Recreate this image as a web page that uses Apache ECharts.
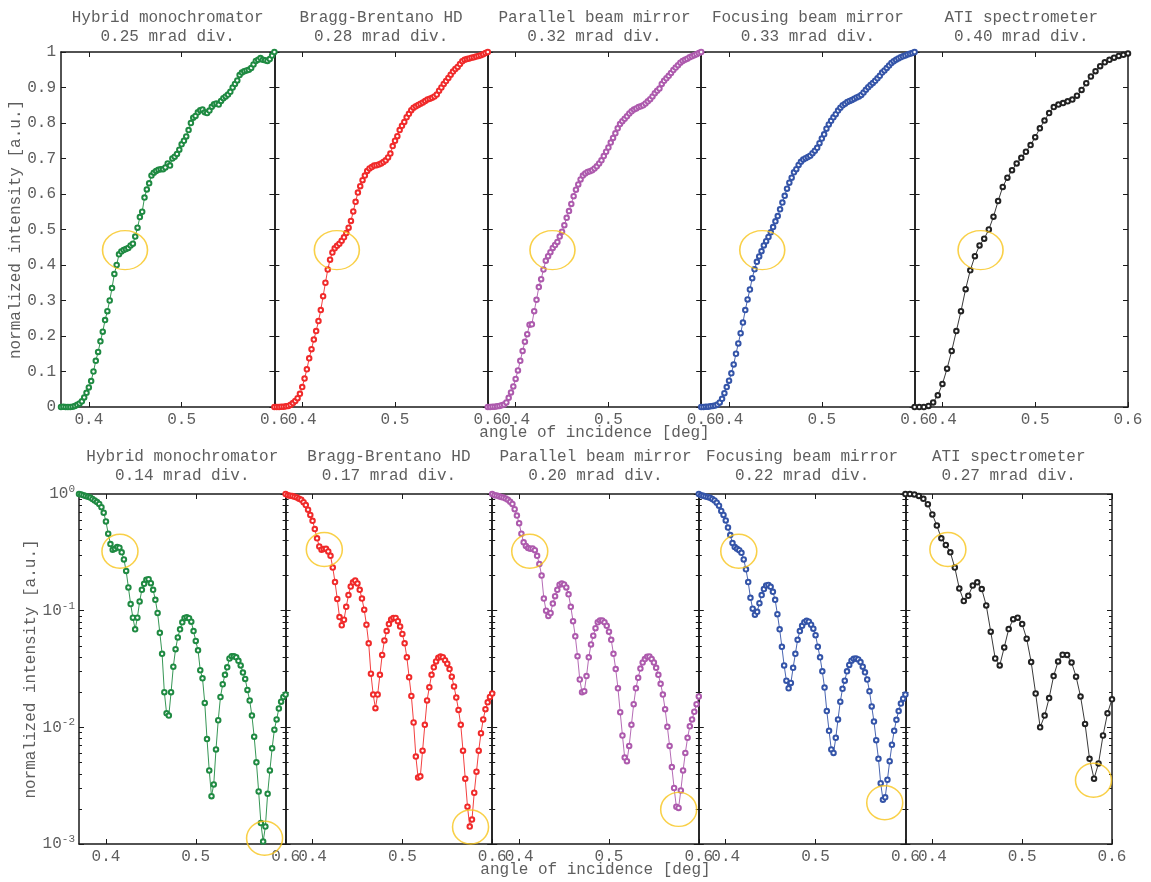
<!DOCTYPE html>
<html><head><meta charset="utf-8">
<script src="https://cdn.jsdelivr.net/npm/echarts@6/dist/echarts.min.js"></script>
<style>html,body{margin:0;padding:0;background:#fff}#chart{width:1151px;height:882px}</style>
</head><body><div id="chart"></div>
<script>
// ---------------- DATA ----------------
const instruments = ['Hybrid monochromator','Bragg-Brentano HD','Parallel beam mirror','Focusing beam mirror','ATI spectrometer'];
const divergenceTop = ['0.25 mrad div.','0.28 mrad div.','0.32 mrad div.','0.33 mrad div.','0.40 mrad div.'];
const divergenceBottom = ['0.14 mrad div.','0.17 mrad div.','0.20 mrad div.','0.22 mrad div.','0.27 mrad div.'];
const xTickValues = [0.4, 0.5, 0.6];
const xAxisTitle = 'angle of incidence [deg]';
const yAxisTitle = 'normalized intensity [a.u.]';

const anglesFine = [0.3700,0.3725,0.3750,0.3775,0.3800,0.3825,0.3850,0.3875,0.3900,0.3925,
 0.3950,0.3975,0.4000,0.4025,0.4050,0.4075,0.4100,0.4125,0.4150,0.4175,
 0.4200,0.4225,0.4250,0.4275,0.4300,0.4325,0.4350,0.4375,0.4400,0.4425,
 0.4450,0.4475,0.4500,0.4525,0.4550,0.4575,0.4600,0.4625,0.4650,0.4675,
 0.4700,0.4725,0.4750,0.4775,0.4800,0.4825,0.4850,0.4875,0.4900,0.4925,
 0.4950,0.4975,0.5000,0.5025,0.5050,0.5075,0.5100,0.5125,0.5150,0.5175,
 0.5200,0.5225,0.5250,0.5275,0.5300,0.5325,0.5350,0.5375,0.5400,0.5425,
 0.5450,0.5475,0.5500,0.5525,0.5550,0.5575,0.5600,0.5625,0.5650,0.5675,
 0.5700,0.5725,0.5750,0.5775,0.5800,0.5825,0.5850,0.5875,0.5900,0.5925,
 0.5950,0.5975,0.6000];
const anglesATI = [0.370,0.375,0.380,0.385,0.390,0.395,0.400,0.405,0.410,0.415,
 0.420,0.425,0.430,0.435,0.440,0.445,0.450,0.455,0.460,0.465,
 0.470,0.475,0.480,0.485,0.490,0.495,0.500,0.505,0.510,0.515,
 0.520,0.525,0.530,0.535,0.540,0.545,0.550,0.555,0.560,0.565,
 0.570,0.575,0.580,0.585,0.590,0.595,0.600];

// top row: linear normalized intensity
const topHybrid = [0.000,0.001,0.000,0.000,0.000,0.001,0.003,0.006,0.010,0.016,
 0.027,0.040,0.055,0.073,0.100,0.130,0.155,0.185,0.212,0.245,
 0.270,0.300,0.335,0.375,0.400,0.430,0.438,0.442,0.445,0.448,
 0.455,0.460,0.480,0.505,0.535,0.550,0.590,0.613,0.630,0.652,
 0.660,0.665,0.668,0.670,0.670,0.675,0.686,0.680,0.700,0.705,
 0.713,0.725,0.740,0.750,0.762,0.780,0.800,0.815,0.820,0.830,
 0.836,0.838,0.830,0.828,0.835,0.846,0.853,0.855,0.852,0.862,
 0.870,0.875,0.880,0.888,0.900,0.910,0.920,0.935,0.942,0.946,
 0.948,0.950,0.955,0.965,0.975,0.978,0.983,0.978,0.977,0.975,
 0.980,0.990,1.000];
const topBragg = [0.000,0.000,0.000,0.001,0.001,0.002,0.003,0.006,0.011,0.017,
 0.025,0.037,0.056,0.080,0.106,0.137,0.163,0.190,0.214,0.242,
 0.273,0.312,0.350,0.387,0.415,0.435,0.447,0.454,0.460,0.468,
 0.478,0.490,0.505,0.524,0.551,0.578,0.604,0.622,0.639,0.652,
 0.665,0.672,0.676,0.680,0.681,0.683,0.686,0.690,0.695,0.703,
 0.714,0.735,0.750,0.763,0.780,0.792,0.803,0.816,0.826,0.836,
 0.843,0.847,0.851,0.854,0.858,0.862,0.866,0.868,0.871,0.875,
 0.880,0.891,0.900,0.910,0.918,0.927,0.936,0.945,0.952,0.958,
 0.966,0.974,0.978,0.980,0.982,0.984,0.985,0.987,0.989,0.991,
 0.994,0.997,1.000];
const topParallel = [0.000,0.000,0.001,0.001,0.002,0.003,0.005,0.007,0.013,0.026,
 0.041,0.058,0.079,0.103,0.130,0.158,0.184,0.205,0.232,0.233,
 0.270,0.302,0.338,0.360,0.387,0.412,0.425,0.436,0.448,0.456,
 0.465,0.480,0.494,0.512,0.533,0.552,0.572,0.594,0.612,0.627,
 0.641,0.652,0.658,0.662,0.664,0.667,0.672,0.678,0.686,0.695,
 0.707,0.719,0.731,0.745,0.758,0.771,0.785,0.797,0.805,0.812,
 0.819,0.827,0.833,0.838,0.841,0.845,0.847,0.850,0.855,0.861,
 0.867,0.875,0.884,0.891,0.897,0.910,0.919,0.926,0.933,0.941,
 0.949,0.956,0.963,0.970,0.975,0.978,0.981,0.985,0.988,0.991,
 0.994,0.997,1.000];
const topFocusing = [0.000,0.000,0.001,0.001,0.002,0.003,0.004,0.007,0.013,0.023,
 0.039,0.056,0.074,0.095,0.120,0.150,0.179,0.208,0.238,0.273,
 0.303,0.331,0.363,0.388,0.409,0.424,0.439,0.455,0.467,0.479,
 0.492,0.507,0.523,0.538,0.557,0.576,0.595,0.615,0.632,0.646,
 0.661,0.670,0.682,0.691,0.697,0.701,0.704,0.708,0.715,0.722,
 0.730,0.743,0.756,0.768,0.784,0.796,0.806,0.816,0.825,0.835,
 0.843,0.850,0.854,0.859,0.862,0.865,0.868,0.872,0.875,0.879,
 0.886,0.894,0.901,0.907,0.913,0.919,0.926,0.933,0.942,0.948,
 0.955,0.962,0.969,0.974,0.978,0.982,0.985,0.988,0.990,0.993,
 0.995,0.997,1.000];
const topATI = [0.000,0.000,0.000,0.003,0.013,0.033,0.065,0.108,0.158,0.214,
 0.270,0.332,0.385,0.425,0.455,0.474,0.500,0.536,0.580,0.620,
 0.646,0.667,0.686,0.702,0.719,0.738,0.760,0.785,0.807,0.828,
 0.845,0.852,0.856,0.861,0.866,0.877,0.893,0.912,0.931,0.946,
 0.960,0.971,0.978,0.984,0.989,0.992,0.996];

// bottom row: log normalized intensity
const bottomHybrid = [1.000,0.991,0.977,0.962,0.946,0.933,0.908,0.881,0.853,0.822,
 0.771,0.692,0.582,0.457,0.372,0.333,0.339,0.351,0.347,0.316,
 0.275,0.219,0.158,0.114,0.0871,0.0692,0.0871,0.120,0.151,0.170,
 0.184,0.186,0.172,0.151,0.124,0.0955,0.0646,0.0427,0.0200,0.0132,
 0.0126,0.0200,0.0331,0.0468,0.0589,0.0692,0.0794,0.0867,0.0879,0.0863,
 0.0804,0.0668,0.0550,0.0457,0.0309,0.0263,0.0162,0.00794,0.00427,0.00257,
 0.00324,0.00646,0.0115,0.0182,0.0234,0.0282,0.0327,0.0389,0.0407,0.0407,
 0.0398,0.0372,0.0339,0.0295,0.0260,0.0209,0.0170,0.0126,0.00832,0.00501,
 0.00282,0.00151,0.00105,0.00141,0.00269,0.00427,0.00661,0.00955,0.0117,0.0145,
 0.0166,0.0182,0.0191];
const bottomBragg = [1.000,0.977,0.968,0.962,0.948,0.935,0.912,0.891,0.851,0.804,
 0.733,0.661,0.589,0.501,0.417,0.355,0.333,0.337,0.339,0.322,
 0.295,0.234,0.176,0.126,0.0881,0.0750,0.0836,0.108,0.136,0.161,
 0.175,0.181,0.171,0.151,0.127,0.102,0.0759,0.0525,0.0288,0.0191,
 0.0146,0.0191,0.0282,0.0417,0.0556,0.0668,0.0767,0.0841,0.0867,0.0867,
 0.0813,0.0733,0.0631,0.0525,0.0398,0.0269,0.0186,0.0110,0.00562,0.00372,
 0.00380,0.00631,0.0105,0.0170,0.0221,0.0282,0.0327,0.0367,0.0394,0.0404,
 0.0398,0.0376,0.0351,0.0316,0.0272,0.0224,0.0180,0.0141,0.0105,0.00631,
 0.00363,0.00209,0.00141,0.00162,0.00275,0.00417,0.00631,0.00891,0.0117,0.0143,
 0.0164,0.0182,0.0195];
const bottomParallel = [1.000,0.977,0.970,0.957,0.944,0.933,0.914,0.891,0.857,0.822,
 0.741,0.653,0.562,0.457,0.385,0.359,0.344,0.340,0.341,0.330,
 0.295,0.251,0.200,0.127,0.100,0.0902,0.0955,0.115,0.133,0.151,
 0.167,0.171,0.168,0.158,0.138,0.108,0.0813,0.0603,0.0407,0.0257,
 0.0200,0.0204,0.0275,0.0398,0.0513,0.0610,0.0708,0.0794,0.0824,0.0822,
 0.0794,0.0741,0.0661,0.0562,0.0427,0.0316,0.0216,0.0135,0.00851,0.00550,
 0.00513,0.00692,0.0105,0.0158,0.0216,0.0266,0.0319,0.0359,0.0385,0.0403,
 0.0404,0.0385,0.0359,0.0324,0.0282,0.0236,0.0191,0.0143,0.0101,0.00692,
 0.00457,0.00302,0.00209,0.00204,0.00288,0.00427,0.00603,0.00813,0.0102,0.0117,
 0.0136,0.0158,0.0184];
const bottomFocusing = [1.000,0.975,0.964,0.953,0.942,0.929,0.908,0.881,0.843,0.794,
 0.716,0.662,0.594,0.515,0.445,0.380,0.351,0.339,0.330,0.313,
 0.275,0.226,0.176,0.129,0.104,0.0923,0.0977,0.116,0.136,0.153,
 0.164,0.166,0.160,0.145,0.124,0.0933,0.0692,0.0490,0.0339,0.0251,
 0.0216,0.0240,0.0324,0.0427,0.0562,0.0668,0.0741,0.0794,0.0818,0.0804,
 0.0759,0.0700,0.0617,0.0490,0.0398,0.0302,0.0219,0.0138,0.00933,0.00646,
 0.00603,0.00813,0.0117,0.0166,0.0214,0.0251,0.0302,0.0343,0.0373,0.0387,
 0.0389,0.0382,0.0363,0.0331,0.0296,0.0257,0.0204,0.0151,0.0112,0.00776,
 0.00537,0.00331,0.00240,0.00251,0.00355,0.00513,0.00708,0.00933,0.0116,0.0138,
 0.0160,0.0176,0.0191];
const bottomATI = [1.000,1.000,0.991,0.962,0.910,0.817,0.668,0.537,0.417,0.366,
 0.316,0.234,0.155,0.121,0.134,0.164,0.175,0.153,0.111,0.0661,
 0.0389,0.0339,0.0484,0.0695,0.0845,0.0871,0.0767,0.0575,0.0363,0.0195,
 0.0100,0.0126,0.0178,0.0275,0.0367,0.0419,0.0417,0.0359,0.0272,0.0184,
 0.0107,0.00537,0.00363,0.00490,0.00851,0.0132,0.0174];

// highlighted features (angle, intensity) per panel
const highlightTop = [[0.439,0.442],[0.4373,0.442],[0.4397,0.442],[0.4358,0.442],[0.4411,0.442]];
const highlightBottomShoulder = [[0.4156,0.323],[0.4131,0.334],[0.4118,0.323],[0.4145,0.323],[0.4173,0.334]];
const highlightBottomDip = [[0.5766,0.00112],[0.5759,0.0014],[0.5776,0.00198],[0.5770,0.00226],[0.5794,0.00352]];

// ---------------- BUILD ----------------
const FONT = '"Liberation Mono","DejaVu Sans Mono",monospace';
const TXT = '#5e5e5e';
const colors = ['#1f8a42','#f02a2a','#ad5aad','#3454a8','#222222'];
const gold = '#f7c41a';
const topSets = [[anglesFine,topHybrid],[anglesFine,topBragg],[anglesFine,topParallel],[anglesFine,topFocusing],[anglesATI,topATI]];
const bottomSets = [[anglesFine,bottomHybrid],[anglesFine,bottomBragg],[anglesFine,bottomParallel],[anglesFine,bottomFocusing],[anglesATI,bottomATI]];

const grid = [], xAxis = [], yAxis = [], series = [], title = [];
const axisLineStyle = {color:'#1a1a1a', width:1.5};
const tickStyle = {color:'#1a1a1a', width:1};
const labelBase = {fontSize:16, fontFamily:FONT, color:TXT};

function logLabel(v){
  const e = Math.round(Math.log10(v));
  return '{b|10}{s|' + e + '}';
}

function addPanel(p, rect, isLog, first, angles, vals, color, hl, hlSize, titleTop, titleText){
  grid.push({left:rect.left, top:rect.top, width:rect.width, height:rect.height});
  const xBase = {type:'value', gridIndex:p, min:0.37, max:0.6, splitLine:{show:false},
    axisLine:{show:true, onZero:false, lineStyle:axisLineStyle}};
  xAxis.push(Object.assign({}, xBase, {position:'bottom',
    axisTick:{show:true, inside:true, length:5, customValues:xTickValues, lineStyle:tickStyle},
    axisLabel:Object.assign({show:true, customValues:xTickValues, margin:5, formatter:v=>v.toFixed(1)}, labelBase)}));
  xAxis.push(Object.assign({}, xBase, {position:'top',
    axisTick:{show:true, inside:true, length:5, customValues:xTickValues, lineStyle:tickStyle},
    axisLabel:{show:false}}));
  let yBase;
  if (!isLog) {
    yBase = {type:'value', gridIndex:p, min:0, max:1, interval:0.1, splitLine:{show:false},
      axisLine:{show:true, onZero:false, lineStyle:axisLineStyle},
      axisTick:{show:true, inside:true, length:5, lineStyle:tickStyle}};
  } else {
    yBase = {type:'log', logBase:10, gridIndex:p, min:0.001, max:1, splitLine:{show:false},
      axisLine:{show:true, onZero:false, lineStyle:axisLineStyle},
      axisTick:{show:true, inside:true, length:5, lineStyle:tickStyle},
      minorTick:{show:true, splitNumber:9, length:3, lineStyle:tickStyle}};
  }
  const leftLabel = first ? (isLog ?
      {show:true, margin:4, formatter:logLabel, rich:{
        b:{fontSize:16, fontFamily:FONT, color:TXT},
        s:{fontSize:11, fontFamily:FONT, color:TXT, padding:[0,0,10,0]}}}
      : Object.assign({show:true, margin:5}, labelBase))
    : {show:false};
  const left = Object.assign({}, yBase, {position:'left', axisLabel:leftLabel});
  if (first) {
    left.name = yAxisTitle; left.nameLocation = 'middle'; left.nameGap = isLog ? 34 : 33;
    left.nameTextStyle = {fontSize:16, fontFamily:FONT, color:TXT};
  }
  yAxis.push(left);
  yAxis.push(Object.assign({}, yBase, {position:'right', axisLabel:{show:false}}));

  series.push({type:'line', xAxisIndex:2*p, yAxisIndex:2*p,
    data: angles.map((a,k)=>[a, vals[k]]),
    symbol:'emptyCircle', symbolSize:4.5, showSymbol:true, showAllSymbol:true,
    lineStyle:{color:color, width:0.9}, itemStyle:{color:color, borderColor:color, borderWidth:0.8},
    z:2, silent:true});
  series.push({type:'scatter', xAxisIndex:2*p, yAxisIndex:2*p, data:hl,
    symbol:'circle', symbolSize:hlSize, clip:false, silent:true, z:3,
    itemStyle:{color:'rgba(0,0,0,0)', borderColor:gold, borderWidth:1.5}});
  title.push({text:titleText, left:rect.left + rect.width/2, top:titleTop, textAlign:'center', padding:0,
    textStyle:{fontSize:16, fontWeight:'normal', fontFamily:FONT, color:TXT, lineHeight:19}});
}

const topW = 213.4, botW = 206.6;
for (let i = 0; i < 5; i++) {
  addPanel(i, {left:61 + i*topW, top:52, width:topW, height:355}, false, i===0,
    topSets[i][0], topSets[i][1], colors[i], [highlightTop[i]], [45,39], 8,
    instruments[i] + '\n' + divergenceTop[i]);
}
for (let i = 0; i < 5; i++) {
  addPanel(5+i, {left:79 + i*botW, top:494, width:botW, height:350}, true, i===0,
    bottomSets[i][0], bottomSets[i][1], colors[i],
    [highlightBottomShoulder[i], highlightBottomDip[i]], [36,34], 447,
    instruments[i] + '\n' + divergenceBottom[i]);
}
title.push({text:xAxisTitle, left:594.5, top:425, textAlign:'center', padding:0,
  textStyle:{fontSize:16, fontWeight:'normal', fontFamily:FONT, color:TXT}});
title.push({text:xAxisTitle, left:595.5, top:862, textAlign:'center', padding:0,
  textStyle:{fontSize:16, fontWeight:'normal', fontFamily:FONT, color:TXT}});

const chart = echarts.init(document.getElementById('chart'), null, {renderer:'canvas'});
chart.setOption({animation:false, backgroundColor:'#fff', title, grid, xAxis, yAxis, series});
</script></body></html>
